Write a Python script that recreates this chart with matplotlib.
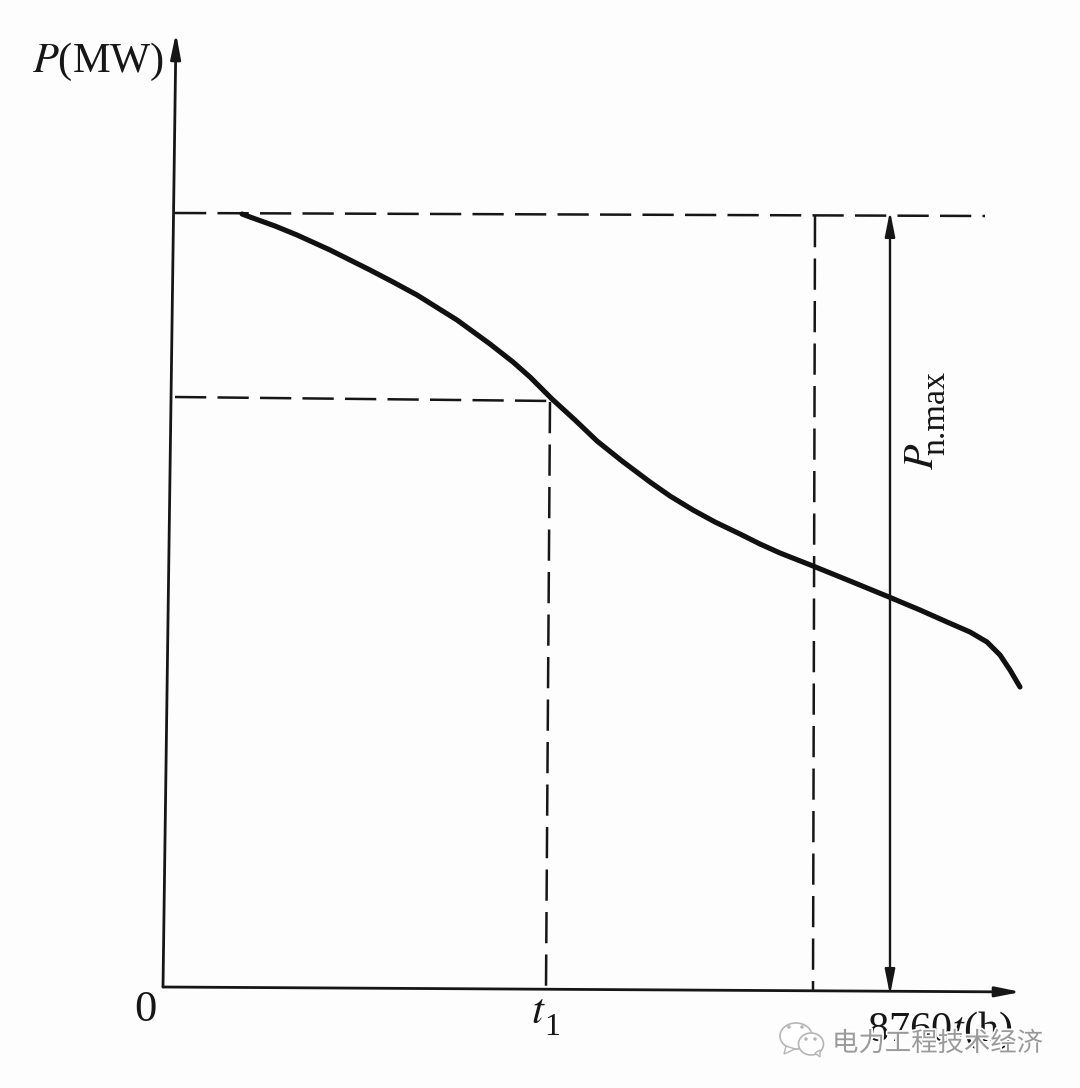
import matplotlib
matplotlib.use('Agg')
import matplotlib.pyplot as plt
import matplotlib.patheffects as pe
from matplotlib.patches import Ellipse, Polygon

# Curve, in image pixels
curve_x = [242, 250, 275, 297, 330, 350, 370, 393, 417, 457, 490, 513, 530, 552, 575, 597, 622, 650, 670, 693,
           715, 740, 760, 780, 813, 850, 889, 920, 947, 970, 987, 1000, 1010, 1020]
curve_y = [214, 217, 226, 235, 250, 260, 270, 282, 295, 320, 344, 362, 377, 399, 420, 441, 461, 482, 496, 510,
           522, 534, 544, 553, 566, 581, 597, 610, 622, 632, 642, 655, 670, 687]

top_x = [175, 985]
top_y = [213, 216]
mid_x = [175, 553]
mid_y = [397, 401]
t1_x = [550, 546]
t1_y = [402, 987]
t2_x = [815, 813]
t2_y = [216, 990]

INK = '#161616'

fig = plt.figure(figsize=(10.8, 10.88), dpi=100, facecolor='#fdfdfd')
ax = fig.add_axes([0, 0, 1, 1])
ax.set_xlim(0, 1080)
ax.set_ylim(1088, 0)
ax.axis('off')

# dashed guides
dash = dict(color=INK, lw=1.8, dashes=(12.5, 4.5))
ax.plot(top_x, top_y, **dash)
ax.plot(mid_x, mid_y, **dash)
ax.plot(t1_x, t1_y, **dash)
ax.plot(t2_x, t2_y, **dash)

# axes with arrow heads
arrow = dict(arrowstyle='-|>,head_length=1.5,head_width=0.3', color=INK, lw=2, shrinkA=0, shrinkB=0)
ax.annotate('', xy=(176, 33), xytext=(163, 987), arrowprops=arrow)
ax.annotate('', xy=(1021, 992), xytext=(163, 987), arrowprops=arrow)

# P_n.max span
span = dict(arrowstyle='<|-|>,head_length=1.5,head_width=0.3', color=INK, lw=1.7, shrinkA=0, shrinkB=0)
ax.annotate('', xy=(890, 211), xytext=(890, 995), arrowprops=span)

ax.plot(curve_x, curve_y, color='#111111', lw=3.7, solid_capstyle='round', solid_joinstyle='round')

# labels
serif = 'Liberation Serif'
ax.text(32, 72, r'$\mathit{P}$(MW)', fontsize=30.5, family=serif, color=INK, va='baseline', math_fontfamily='stix')
ax.text(134, 1021, '0', fontsize=32, family=serif, color=INK, va='baseline')
ax.text(531, 1023, r'$\mathit{t}$', fontsize=31, family=serif, color=INK, va='baseline', math_fontfamily='stix')
ax.text(544, 1035, '1', fontsize=23, family=serif, color=INK, va='baseline')
ax.text(867, 1041, r'8760$\mathit{t}$(h)', fontsize=30.5, family=serif, color=INK, va='baseline', math_fontfamily='stix')
ax.text(923, 470, r'$\mathit{P}$', fontsize=30, family=serif, color=INK, rotation=90, va='bottom', ha='center', math_fontfamily='stix')
ax.text(936, 455, 'n.max', fontsize=24.5, family=serif, color=INK, rotation=90, va='bottom', ha='center')

# watermark
wm = '#9a9a9a'
icon = '#b5b5b5'
halo = [pe.withStroke(linewidth=2.5, foreground='white')]
for cx, cy, w, h in [(796, 1036, 32, 26), (811, 1044, 25, 22)]:
    ax.add_patch(Ellipse((cx, cy), w, h, fc='white', ec=icon, lw=1.2, zorder=4))
ax.add_patch(Polygon([[786, 1046], [784, 1054], [795, 1049]], fc='white', ec=icon, lw=1, zorder=4))
ax.add_patch(Polygon([[815, 1053], [820, 1057], [820, 1050]], fc='white', ec=icon, lw=1, zorder=4))
for cx, cy in [(789, 1027), (802, 1027), (806, 1039), (815, 1039)]:
    ax.add_patch(Ellipse((cx, cy), 3.5, 3.5, fc=icon, ec='none', zorder=5))
ax.text(832, 1051, '电力工程技术经济', fontsize=19, family=['Noto Sans CJK SC', 'DejaVu Sans'], color=wm,
        va='baseline', path_effects=halo, zorder=5)

fig.savefig('out.png', dpi=100, facecolor=fig.get_facecolor())
